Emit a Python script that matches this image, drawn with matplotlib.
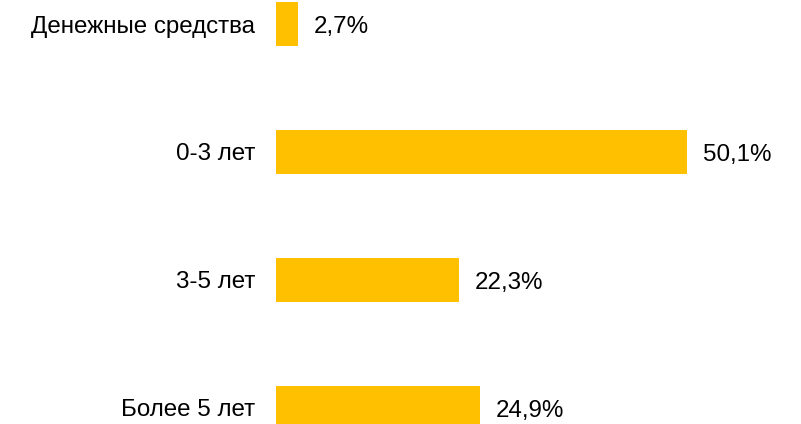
import matplotlib.pyplot as plt

plt.rcParams["font.family"] = ["Liberation Sans", "DejaVu Sans"]

categories = ["Денежные средства", "0-3 лет", "3-5 лет", "Более 5 лет"]
shares = [2.7, 50.1, 22.3, 24.9]
value_labels = ["2,7%", "50,1%", "22,3%", "24,9%"]

BAR_COLOR = "#FFC000"
TEXT_COLOR = "#000000"

fig = plt.figure(figsize=(8.01, 4.24), dpi=100)
# axes starts where the bars begin; spans the full height
ax = fig.add_axes([276 / 801, 0, 525 / 801, 1])

positions = list(range(len(categories)))
ax.barh(positions, shares, height=0.35, color=BAR_COLOR)

for pos, value, label in zip(positions, shares, value_labels):
    ax.annotate(
        label,
        xy=(value, pos),
        xytext=(11.5, -2.2),
        textcoords="offset points",
        va="center",
        ha="left",
        fontsize=17.4,
        color=TEXT_COLOR,
    )

ax.set_yticks(positions, categories, fontsize=17.4, color=TEXT_COLOR)
ax.tick_params(axis="y", length=0, pad=15)
ax.set_xticks([])
ax.set_xlim(0, 525 / 8.2)
ax.set_ylim(3 + 16 / 128, -24 / 128)

for spine in ax.spines.values():
    spine.set_visible(False)

fig.savefig("out.png", dpi=100)
